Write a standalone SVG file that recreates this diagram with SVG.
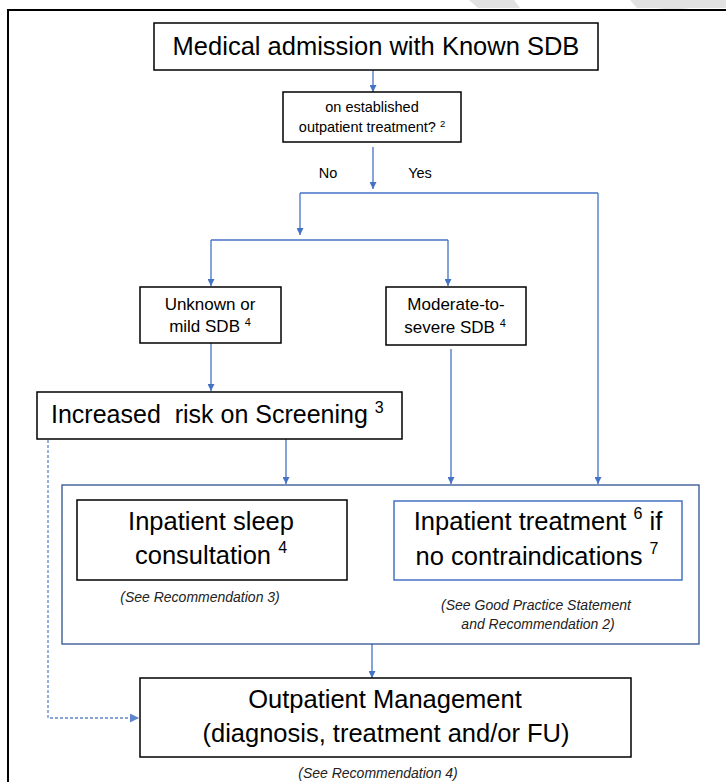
<svg xmlns="http://www.w3.org/2000/svg" width="726" height="782" viewBox="0 0 726 782">
<style>
  text { font-family: "Liberation Sans", Arial, sans-serif; fill: #000; }
  .box { fill: #fff; stroke: #000; stroke-width: 1.5; }
  .bluebox { fill: none; stroke: #2F528F; stroke-width: 1.3; }
  .lbox { fill: #fff; stroke: #4472C4; stroke-width: 1.5; }
  .conn { fill: none; stroke: #4472C4; stroke-width: 1.3; }
  .dash { fill: none; stroke: #4472C4; stroke-width: 1.3; stroke-dasharray: 3 2; opacity: 0.85; }
  .big { font-size: 25.5px; text-anchor: middle; }
  .mid { font-size: 17px; text-anchor: middle; }
  .sm { font-size: 14.5px; text-anchor: middle; }
  .cap { font-size: 14px; font-style: italic; text-anchor: middle; fill: #222; }
  .wm { fill: #e2e2e2; }
</style>
<defs>
  <marker id="ah" viewBox="0 0 10 10" refX="10" refY="5" markerWidth="7" markerHeight="7" markerUnits="userSpaceOnUse" orient="auto">
    <path d="M0,0 L10,5 L0,10 z" fill="#4472C4"/>
  </marker>
  <marker id="ah2" viewBox="0 0 10 10" refX="10" refY="5" markerWidth="9" markerHeight="9" markerUnits="userSpaceOnUse" orient="auto">
    <path d="M0,0 L10,5 L0,10 z" fill="#4472C4"/>
  </marker>
</defs>

<!-- watermark fragments -->
<polygon class="wm" points="469,0 514,0 520,8 478,8"/>
<polygon class="wm" points="630,0 726,0 726,8 690,8 673,10 656,8 637,8"/>

<!-- frame -->
<path d="M8,782 L8,10 L726,10" fill="none" stroke="#000" stroke-width="2"/>

<g id="connectors">
  <line class="conn" x1="373" y1="70" x2="373" y2="92" marker-end="url(#ah)"/>
  <line class="conn" x1="373" y1="147" x2="373" y2="189" marker-end="url(#ah)"/>
  <path class="conn" d="M300,193 L598,193"/>
  <line class="conn" x1="300" y1="193" x2="300" y2="235" marker-end="url(#ah)"/>
  <path class="conn" d="M211,240 L448,240"/>
  <line class="conn" x1="211" y1="240" x2="211" y2="286" marker-end="url(#ah)"/>
  <line class="conn" x1="448" y1="240" x2="448" y2="286" marker-end="url(#ah)"/>
  <line class="conn" x1="598" y1="193" x2="598" y2="484" marker-end="url(#ah)"/>
  <line class="conn" x1="211" y1="343" x2="211" y2="391" marker-end="url(#ah)"/>
  <line class="conn" x1="451" y1="349" x2="451" y2="484" marker-end="url(#ah)"/>
  <line class="conn" x1="286" y1="439" x2="286" y2="484" marker-end="url(#ah)"/>
  <line class="conn" x1="372" y1="644" x2="372" y2="678" marker-end="url(#ah)"/>
  <path class="dash" d="M48,440 L48,718 L139,718" marker-end="url(#ah2)"/>
</g>

<g id="n-admission">
  <rect class="box" x="154" y="23" width="444" height="47"/>
  <text class="big" x="376" y="55">Medical admission with Known SDB</text>
</g>

<g id="n-established">
  <rect class="box" x="283" y="92" width="178" height="50"/>
  <text class="sm" x="372" y="112">on established</text>
  <text class="sm" x="372" y="132">outpatient treatment? <tspan font-size="9.5" dy="-5">2</tspan></text>
</g>

<g id="labels">
  <text class="sm" x="328" y="178">No</text>
  <text class="sm" x="420" y="178">Yes</text>
</g>

<g id="n-unknown">
  <rect class="box" x="140" y="287" width="141" height="56"/>
  <text class="mid" x="210" y="310">Unknown or</text>
  <text class="mid" x="210" y="332">mild SDB <tspan font-size="11" dy="-6">4</tspan></text>
</g>

<g id="n-moderate">
  <rect class="box" x="386" y="287" width="140" height="58"/>
  <text class="mid" x="456" y="310">Moderate-to-</text>
  <text class="mid" x="455" y="333">severe SDB <tspan font-size="11" dy="-6">4</tspan></text>
</g>

<g id="n-screening">
  <rect class="box" x="37" y="392" width="365" height="47"/>
  <text x="51" y="423" font-size="25" style="white-space:pre">Increased  risk on Screening <tspan font-size="16" dy="-10">3</tspan></text>
</g>

<g id="n-inpatient-group">
  <rect class="bluebox" x="62" y="485" width="637" height="159"/>
</g>

<g id="n-sleep-consult">
  <rect class="box" x="77" y="500" width="270" height="80"/>
  <text class="big" x="211" y="530">Inpatient sleep</text>
  <text class="big" x="211" y="564">consultation <tspan font-size="16" dy="-11">4</tspan></text>
  <text class="cap" x="200" y="602">(See Recommendation 3)</text>
</g>

<g id="n-inpatient-treatment">
  <rect class="lbox" x="394" y="501" width="288" height="79"/>
  <text class="big" x="538" y="530">Inpatient treatment <tspan font-size="16" dy="-11">6</tspan><tspan dy="11"> if</tspan></text>
  <text class="big" x="537" y="565">no contraindications <tspan font-size="16" dy="-11">7</tspan></text>
  <text class="cap" x="536" y="610">(See Good Practice Statement</text>
  <text class="cap" x="538" y="629">and Recommendation 2)</text>
</g>

<g id="n-outpatient">
  <rect class="box" x="140" y="678" width="491" height="79"/>
  <text class="big" x="385" y="708">Outpatient Management</text>
  <text class="big" x="386" y="742">(diagnosis, treatment and/or FU)</text>
  <text class="cap" x="378" y="778">(See Recommendation 4)</text>
</g>
</svg>
